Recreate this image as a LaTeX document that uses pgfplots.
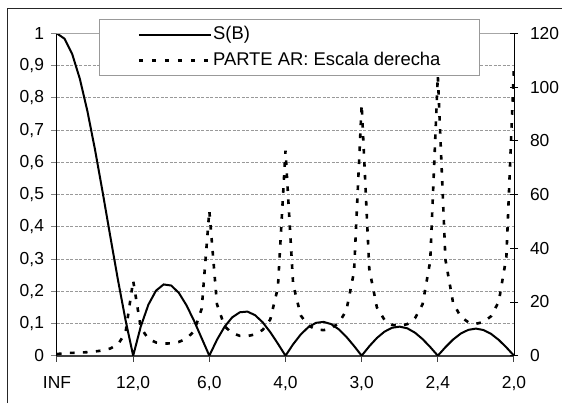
\documentclass[border=0pt]{standalone}
\usepackage{fontspec}
\setmainfont{Liberation Sans}
\usepackage{pgfplots}
\pgfplotsset{compat=1.18}

\pgfplotsset{
  chartfont/.style={font=\fontsize{8.7}{10}\selectfont},
  legendfont/.style={font=\fontsize{9.2}{11}\selectfont},
  panel/.style={
    at={(28.5pt,23.65pt)}, anchor=south west,
    width=228.5pt, height=161.1pt, scale only axis,
    xmin=0, xmax=6,
  },
}

\begin{document}
\begin{tikzpicture}[x=0.5pt,y=0.5pt]
\useasboundingbox (0,0) rectangle (562,403);
% chart frame
\draw[black!85, line width=0.5pt] (7,0) -- (7,395) -- (562,395);

% left scale: S(B)
\begin{axis}[
  panel,
  ymin=0, ymax=1,
  axis x line*=bottom, axis y line*=left,
  x axis line style={black!75, line width=1pt},
  y axis line style={black, line width=0.5pt},
  xtick={0,1,2,3,4,5,6},
  xticklabels={INF,{12,0},{6,0},{4,0},{3,0},{2,4},{2,0}},
  ytick={0,0.1,0.2,0.3,0.4,0.5,0.6,0.7,0.8,0.9,1},
  yticklabels={0,{0,1},{0,2},{0,3},{0,4},{0,5},{0,6},{0,7},{0,8},{0,9},1},
  tick align=outside, major tick length=3pt,
  xtick style={black!75, line width=0.5pt},
  ytick style={gray, line width=0.5pt},
  ymajorgrids,
  major grid style={gray!80, line width=0.5pt, dash pattern=on 1.5pt off 0.75pt},
  tick label style={chartfont, black},
  xticklabel style={yshift=-4pt},
]
\addplot[black, line width=1pt] coordinates {
  (0,1) (0.1,0.9836) (0.2,0.9359) (0.3,0.8593) (0.4,0.7582) (0.5,0.6384)
  (0.6,0.5066) (0.7,0.3699) (0.8,0.2356) (0.9,0.1103) (1,0)
  (1.1,0.0907) (1.2,0.1585) (1.3,0.2020) (1.4,0.2212) (1.5,0.2178)
  (1.6,0.1949) (1.7,0.1566) (1.8,0.1079) (1.9,0.0540) (2,0)
  (2.1,0.0493) (2.2,0.0899) (2.3,0.1190) (2.4,0.1348) (2.5,0.1369)
  (2.6,0.1259) (2.7,0.1038) (2.8,0.0732) (2.9,0.0374) (3,0)
  (3.1,0.0355) (3.2,0.0659) (3.3,0.0887) (3.4,0.1020) (3.5,0.1050)
  (3.6,0.0980) (3.7,0.0818) (3.8,0.0584) (3.9,0.0302) (4,0)
  (4.1,0.0293) (4.2,0.0550) (4.3,0.0747) (4.4,0.0868) (4.5,0.0902)
  (4.6,0.0849) (4.7,0.0715) (4.8,0.0515) (4.9,0.0269) (5,0)
  (5.1,0.0265) (5.2,0.0501) (5.3,0.0686) (5.4,0.0802) (5.5,0.0841)
  (5.6,0.0797) (5.7,0.0676) (5.8,0.0490) (5.9,0.0258) (6,0)
};
\draw[gray!70, line width=0.6pt] (rel axis cs:0,1) -- (rel axis cs:1,1);
\end{axis}

% right scale: PARTE AR
\begin{axis}[
  panel,
  ymin=0, ymax=120,
  axis x line=none, axis y line*=right,
  y axis line style={black, line width=0.5pt},
  xtick=\empty,
  ytick={0,20,40,60,80,100,120},
  yticklabels={0,20,40,60,80,100,120},
  tick align=center, major tick length=4pt,
  ytick style={black, line width=0.5pt},
  tick label style={chartfont, black},
  yticklabel style={xshift=2.5pt},
  legend style={
    at={(0.0919,1.045)}, anchor=north west,
    draw=gray!80, fill=white, line width=0.5pt,
    legendfont, inner xsep=19pt, inner ysep=2.2pt, row sep=1.8pt,
    nodes={inner xsep=0.5pt, inner ysep=1pt, text height=7pt, text depth=2pt},
  },
  legend cell align=left,
  legend image code/.code={\draw[#1] (0pt,0pt) -- (36pt,0pt);},
]
\addlegendimage{black, line width=1pt}
\addlegendentry{S(B)}
\addplot[black, line width=1.3pt, dash pattern=on 2.3pt off 4.2pt] coordinates {
  (0,0.6) (0.1,0.96) (0.2,1.06) (0.3,1.16) (0.4,1.32) (0.5,1.57)
  (0.6,1.97) (0.7,2.69) (0.8,4.20) (0.9,8.58) (1,27.95)
  (1.1,10.44) (1.2,6.24) (1.3,4.93) (1.4,4.52) (1.5,4.59)
  (1.6,5.13) (1.7,6.36) (1.8,9.16) (1.9,17.53) (2,54.0)
  (2.1,19.20) (2.2,10.99) (2.3,8.37) (2.4,7.41) (2.5,7.31)
  (2.6,7.94) (2.7,9.60) (2.8,13.50) (2.9,25.29) (3,76.37)
  (3.1,26.65) (3.2,15.00) (3.3,11.24) (3.4,9.80) (3.5,9.52)
  (3.6,10.20) (3.7,12.18) (3.8,16.92) (3.9,31.33) (4,93.53)
  (4.1,32.29) (4.2,17.98) (4.3,13.34) (4.4,11.52) (4.5,11.09)
  (4.6,11.77) (4.7,13.93) (4.8,19.19) (4.9,35.23) (5,104.32)
  (5.1,35.73) (5.2,19.74) (5.3,14.53) (5.4,12.46) (5.5,11.90)
  (5.6,12.54) (5.7,14.73) (5.8,20.15) (5.9,36.73) (6,108.0)
};
\addlegendentry{PARTE AR: Escala derecha}
\end{axis}
\end{tikzpicture}
\end{document}
